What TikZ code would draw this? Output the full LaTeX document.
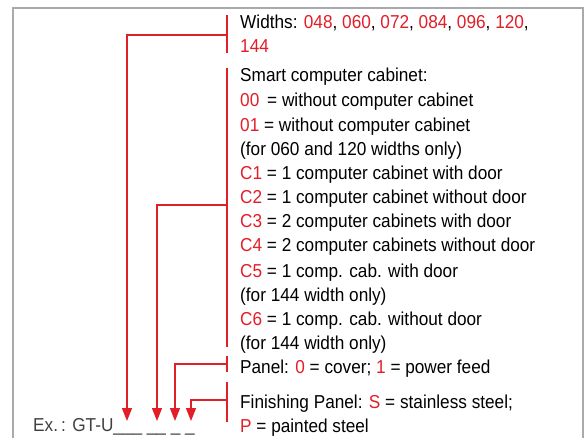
\documentclass[tikz,border=0pt]{standalone}
\usepackage{fontspec}
\setmainfont[FakeStretch=0.92]{Liberation Sans}
\usetikzlibrary{arrows.meta}
\definecolor{codered}{RGB}{226,30,40}
\definecolor{framegray}{RGB}{170,170,172}
\tikzstyle{line}=[anchor=base west,inner sep=0pt,font=\fontsize{18.7}{24}\selectfont]
\tikzstyle{bracket}=[draw=codered,line width=1.1pt]
\tikzstyle{pointer}=[bracket,-{Triangle[width=10pt,length=13pt]}]
\newcommand{\rd}[1]{\textcolor{codered}{#1}}

\begin{document}
\begin{tikzpicture}[x=1pt,y=-1pt]
\useasboundingbox (0,0) rectangle (587,437);
\draw[framegray,line width=2pt] (13,460) -- (13,8) -- (583,8) -- (583,460);
% option texts
\node[line] (w1) at (240,28) {Widths: \rd{048}, \rd{060}, \rd{072}, \rd{084}, \rd{096}, \rd{120},};
\node[line] (w2) at (240,52) {\rd{144}};
\node[line] (s0) at (240,81) {Smart computer cabinet:};
\node[line] (s1) at (240,106) {\rd{00} \,= without computer cabinet};
\node[line] (s2) at (240,131) {\rd{01} = without computer cabinet};
\node[line] (s3) at (240,155) {(for 060 and 120 widths only)};
\node[line] (s4) at (240,179) {\rd{C1} = 1 computer cabinet with door};
\node[line] (s5) at (240,203) {\rd{C2} = 1 computer cabinet without door};
\node[line] (s6) at (240,227) {\rd{C3} = 2 computer cabinets with door};
\node[line] (s7) at (240,251) {\rd{C4} = 2 computer cabinets without door};
\node[line] (s8) at (240,277) {\rd{C5} = 1 comp. cab. with door};
\node[line] (s9) at (240,301) {(for 144 width only)};
\node[line] (s10) at (240,325) {\rd{C6} = 1 comp. cab. without door};
\node[line] (s11) at (240,349) {(for 144 width only)};
\node[line] (p1) at (240,373) {Panel: \rd{0} = cover; \rd{1} = power feed};
\node[line] (f1) at (240,408) {Finishing Panel: \rd{S} = stainless steel;};
\node[line] (f2) at (240,432) {\rd{P} = painted steel};
\node[line,text=black!75] (ex) at (33,431) {Ex.\,: GT-U\_\_\_ \_\_ \_ \_};
% bracket ends
\coordinate (wt) at (227,15); \coordinate (wb) at (227,53); \coordinate (wm) at (227,35);
\coordinate (st) at (227,68); \coordinate (sb) at (227,347); \coordinate (sm) at (227,205);
\coordinate (pt) at (227,356); \coordinate (pb) at (227,372); \coordinate (pm) at (227,364);
\coordinate (ft) at (227,382); \coordinate (fb) at (227,422); \coordinate (fm) at (227,400);
\coordinate (u1) at (127,421); \coordinate (u2) at (157,421);
\coordinate (u3) at (175,421); \coordinate (u4) at (191,421);
\draw[bracket] (wt) -- (wb); \draw[bracket] (st) -- (sb);
\draw[bracket] (pt) -- (pb); \draw[bracket] (ft) -- (fb);
\draw[pointer] (wm) -| (u1); \draw[pointer] (sm) -| (u2);
\draw[pointer] (pm) -| (u3); \draw[pointer] (fm) -| (u4);
\end{tikzpicture}
\end{document}
